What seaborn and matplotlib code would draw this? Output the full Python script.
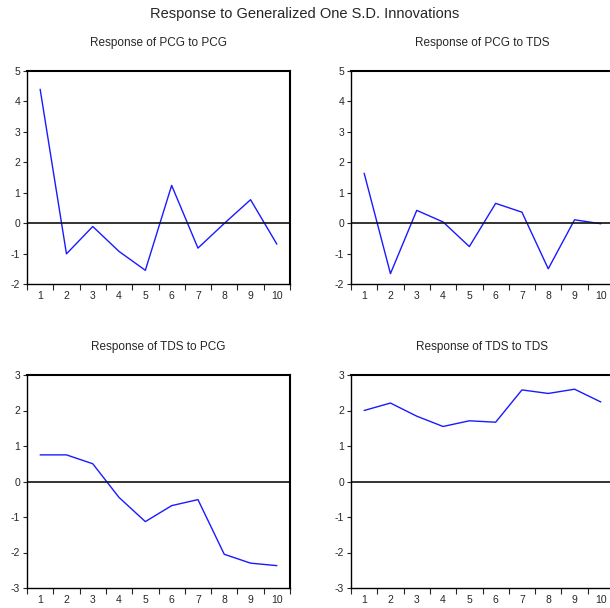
import matplotlib
matplotlib.use("Agg")
import matplotlib.pyplot as plt
import seaborn as sns
import pandas as pd
import numpy as np

periods = [1, 2, 3, 4, 5, 6, 7, 8, 9, 10]
pcg_to_pcg = [4.40, -1.01, -0.11, -0.93, -1.55, 1.24, -0.82, -0.01, 0.77, -0.69]
pcg_to_tds = [1.64, -1.66, 0.42, 0.04, -0.77, 0.65, 0.36, -1.50, 0.11, -0.02]
tds_to_pcg = [0.75, 0.75, 0.50, -0.45, -1.13, -0.68, -0.51, -2.05, -2.30, -2.37]
tds_to_tds = [2.00, 2.21, 1.84, 1.55, 1.71, 1.67, 2.58, 2.48, 2.60, 2.24]

titles = ["Response of PCG to PCG", "Response of PCG to TDS",
          "Response of TDS to PCG", "Response of TDS to TDS"]
suptitle = "Response to Generalized One S.D. Innovations"
top_ticks = [-2, -1, 0, 1, 2, 3, 4, 5]
bottom_ticks = [-3, -2, -1, 0, 1, 2, 3]

sns.set_style("white")
plt.rcParams['font.family'] = ['Liberation Sans Narrow', 'Liberation Sans', 'DejaVu Sans']

fig = plt.figure(figsize=(6.1, 6.08), dpi=100)
W, H = 610, 608
aw = 263 / W
ah = 213 / H
positions = [
    (27 / W, (H - 284) / H),
    (351 / W, (H - 284) / H),
    (27 / W, (H - 588) / H),
    (351 / W, (H - 588) / H),
]
series = [pcg_to_pcg, pcg_to_tds, tds_to_pcg, tds_to_tds]

for i, (pos, vals, title) in enumerate(zip(positions, series, titles)):
    ax = fig.add_axes([pos[0], pos[1], aw, ah])
    df = pd.DataFrame({"period": periods, "value": vals})
    sns.lineplot(data=df, x="period", y="value", ax=ax, color="#1a1aff", linewidth=1.0)
    ax.axhline(0, color="#111111", linewidth=1.2)
    ax.set_xlim(0.5, 10.5)
    if i < 2:
        ax.set_ylim(-2, 5)
        ax.set_yticks(top_ticks)
        ax.set_yticklabels([str(t) for t in top_ticks])
    else:
        ax.set_ylim(-3, 3)
        ax.set_yticks(bottom_ticks)
        ax.set_yticklabels([str(t) for t in bottom_ticks])
    ax.set_xticks(periods)
    ax.set_xticklabels([str(p) for p in periods])
    ax.set_xticks(np.arange(0.5, 11, 1.0), minor=True)
    ax.tick_params(axis="x", which="major", length=0, pad=5, labelsize=7.5)
    ax.tick_params(axis="x", which="minor", length=4, width=0.8, direction="out", bottom=True)
    ax.tick_params(axis="y", which="major", length=3, width=0.8, direction="out", left=True, pad=2, labelsize=7.5)
    ax.set_xlabel("")
    ax.set_ylabel("")
    for name, s in ax.spines.items():
        s.set_color("black")
        s.set_linewidth(1.0 if name in ("left", "bottom") else 1.5)
        s.set_visible(True)
    ax.set_title(title, fontsize=8.5, pad=18)

fig.text(0.5, 1 - 14 / H, suptitle, ha="center", va="center", fontsize=10.5)
fig.savefig("out.png", dpi=100)
